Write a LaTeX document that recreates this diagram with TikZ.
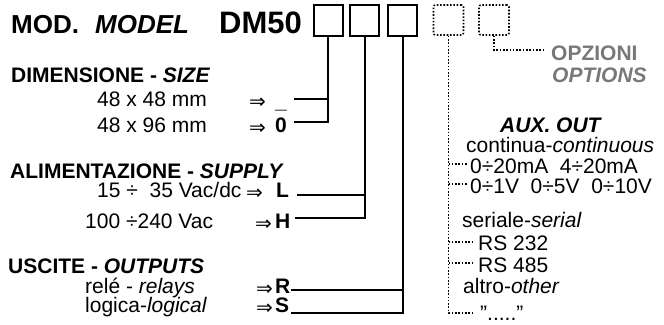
\documentclass[tikz,border=0pt]{standalone}
\usepackage{fontspec}
\setmainfont{Liberation Sans}
\newfontfamily\arrowfont{DejaVu Sans}
\definecolor{optgray}{RGB}{120,120,120}
\begin{document}
\begin{tikzpicture}[x=1pt,y=-1pt,
  txt/.style={anchor=base west, inner sep=0pt, font=\fontsize{21}{21}\selectfont},
  hdr/.style={anchor=base west, inner sep=0pt, font=\bfseries\fontsize{21}{21}\selectfont},
  ttl/.style={anchor=base west, inner sep=0pt, font=\bfseries\fontsize{26}{26}\selectfont},
  letr/.style={anchor=base west, inner sep=0pt, font=\bfseries\fontsize{21}{21}\selectfont},
  arr/.style={anchor=base west, inner sep=0pt, yshift=-2.5pt, font=\arrowfont\fontsize{20}{20}\selectfont},
  codebox/.style={draw, line width=2pt, minimum width=29pt, minimum height=31pt, inner sep=0pt},
  optbox/.style={draw, line width=1.6pt, dash pattern=on 1.6pt off 1.7pt, rounded corners=2pt, minimum width=30pt, minimum height=30pt, inner sep=0pt},
  conn/.style={line width=2pt},
  dconn/.style={line width=1.6pt, dash pattern=on 1.6pt off 1.7pt},
  opttxt/.style={anchor=base west, inner sep=0pt, text=optgray, font=\bfseries\fontsize{21}{21}\selectfont}
]
\useasboundingbox (0,0) rectangle (664,324);

% title
\node[ttl] (mod) at (11,33) {MOD.};
\node[ttl] (model) at (95,33) {\itshape MODEL};
\node[anchor=base west, inner sep=0pt, font=\bfseries\fontsize{31}{31}\selectfont] (dm) at (219,33) {DM50};

% code boxes
\node[codebox] (b1) at (328,20) {};
\node[codebox] (b2) at (364.5,20) {};
\node[codebox] (b3) at (402.5,20) {};
\node[optbox] (o1) at (448.5,20) {};
\node[optbox] (o2) at (494,20) {};

% size
\node[hdr] (hsize) at (11,82) {DIMENSIONE - \textit{SIZE}};
\node[txt] (s1) at (97,106) {48 x 48 mm};
\node[txt] (s2) at (97,132) {48 x 96 mm};
\node[arr] (as1) at (249,106) {⇒};
\node[arr] (as2) at (249,132) {⇒};
\node[letr] (lU) at (275,108) {\_};
\node[letr] (l0) at (275,132) {0};

% supply
\node[hdr] (hsup) at (10,178) {ALIMENTAZIONE - \textit{SUPPLY}};
\node[txt] (p1) at (97,197) {15 ÷\ \ 35 Vac/dc};
\node[txt] (p2) at (85,228) {100 ÷240 Vac};
\node[arr] (ap1) at (246,197) {⇒};
\node[arr] (ap2) at (255,228) {⇒};
\node[letr] (lL) at (276,197) {L};
\node[letr] (lH) at (275,228) {H};

% outputs
\node[hdr] (hout) at (8,273) {USCITE - \textit{OUTPUTS}};
\node[txt] (u1) at (85,293) {relé - \textit{relays}};
\node[txt] (u2) at (85,312) {logica-\textit{logical}};
\node[arr] (au1) at (256,293) {⇒};
\node[arr] (au2) at (256,312) {⇒};
\node[letr] (lR) at (275,293) {R};
\node[letr] (lS) at (275,312) {S};

% connector start points
\coordinate (cU) at (294,99);
\coordinate (c0) at (294,122);
\coordinate (cL) at (297,195);
\coordinate (cH) at (295,218);
\coordinate (cR) at (291,290);
\coordinate (cS) at (291,313);

\draw[conn] (cU) -| (b1.south);
\draw[conn] (c0) -| (b1.south);
\draw[conn] (cL) -| (b2.south);
\draw[conn] (cH) -| (b2.south);
\draw[conn] (cR) -| (b3.south);
\draw[conn] (cS) -| (b3.south);

% options
\node[opttxt] (opz) at (551,60) {OPZIONI};
\node[opttxt] (opt) at (552,82) {\itshape OPTIONS};
\coordinate (optend) at (543,50);
\draw[dconn] (o2.south) |- (optend);

% aux out
\node[anchor=base west, inner sep=0pt, font=\bfseries\itshape\fontsize{21}{21}\selectfont] (aux) at (500,132) {AUX. OUT};
\node[txt] (r1) at (466,152) {continua-\textit{continuous}};
\node[txt] (r2) at (470,173) {0÷20mA\ \ 4÷20mA};
\node[txt] (r3) at (470,193.5) {0÷1V\ \ 0÷5V\ \ 0÷10V};
\node[txt] (r4) at (462,227) {seriale-\textit{serial}};
\node[txt] (r5) at (478,250) {RS 232};
\node[txt] (r6) at (478,272) {RS 485};
\node[txt] (r7) at (463,293) {altro-\textit{other}};
\node[txt] (r8) at (480,320) {\char34.....\char34};

\coordinate (k1) at (467,164);
\coordinate (k2) at (467,184);
\coordinate (k3) at (473,242);
\coordinate (k4) at (473,263);
\coordinate (auxend) at (473,313);
\draw[dconn] (o1.south) |- (auxend);
\draw[dconn] (o1.south |- k1) -- (k1);
\draw[dconn] (o1.south |- k2) -- (k2);
\draw[dconn] (o1.south |- k3) -- (k3);
\draw[dconn] (o1.south |- k4) -- (k4);
\end{tikzpicture}
\end{document}
